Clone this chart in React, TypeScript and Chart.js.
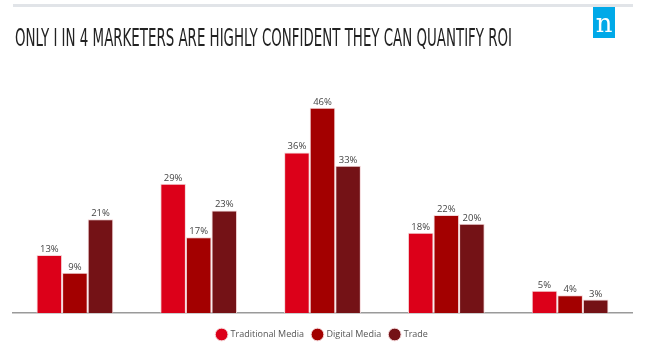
import React, { useEffect, useRef } from "react";
import { Chart, registerables } from "chart.js";

Chart.register(...registerables);

const categories = ["Group 1", "Group 2", "Group 3", "Group 4", "Group 5"];
const traditionalMedia = [13, 29, 36, 18, 5];
const digitalMedia = [9, 17, 46, 22, 4];
const trade = [21, 23, 33, 20, 3];
const seriesNames = ["Traditional Media", "Digital Media", "Trade"];
const title = "ONLY I IN 4 MARKETERS ARE HIGHLY CONFIDENT THEY CAN QUANTIFY ROI";

const decorPlugin = {
  id: "decor",
  afterDraw(chart: any) {
    const ctx = chart.ctx;
    ctx.save();
    // top rule
    ctx.fillStyle = "#e1e4e8";
    ctx.fillRect(13, 4, 620, 3);
    // logo
    ctx.fillStyle = "#00a9e8";
    ctx.fillRect(593, 7, 22, 31);
    ctx.fillStyle = "#ffffff";
    ctx.font = "26px 'DejaVu Serif', 'Liberation Serif', serif";
    ctx.textAlign = "center";
    ctx.textBaseline = "alphabetic";
    ctx.fillText("n", 604, 32);
    // title
    ctx.fillStyle = "#222222";
    ctx.font = "25px 'Liberation Sans Narrow', 'DejaVu Sans Condensed', sans-serif";
    ctx.textAlign = "left";
    const w = ctx.measureText(title).width;
    ctx.translate(15, 45.5);
    ctx.scale(497 / w, 1);
    ctx.fillText(title, 0, 0);
    ctx.restore();

    // data labels
    ctx.save();
    ctx.font = "9.5px 'Open Sans', sans-serif";
    ctx.fillStyle = "#444";
    ctx.textAlign = "center";
    ctx.textBaseline = "bottom";
    chart.data.datasets.forEach((ds: any, i: number) => {
      const meta = chart.getDatasetMeta(i);
      meta.data.forEach((bar: any, j: number) => {
        ctx.fillText(ds.data[j] + "%", bar.x, bar.y - 1);
      });
    });
    ctx.restore();
  },
};

export default function App() {
  const ref = useRef<HTMLCanvasElement>(null);
  useEffect(() => {
    const chart = new Chart(ref.current!, {
      type: "bar",
      data: {
        labels: categories,
        datasets: [
          { label: seriesNames[0], data: traditionalMedia, backgroundColor: "#dc0019" },
          { label: seriesNames[1], data: digitalMedia, backgroundColor: "#a30000" },
          { label: seriesNames[2], data: trade, backgroundColor: "#741216" },
        ].map((d) => ({
          ...d,
          borderColor: "#f3d6d8",
          borderWidth: 1,
          categoryPercentage: 0.62,
          barPercentage: 1,
        })),
      },
      options: {
        responsive: false,
        animation: false,
        layout: { padding: { top: 90, left: 13, right: 25, bottom: 5 } },
        scales: {
          x: {
            grid: { display: false },
            ticks: { display: false },
            border: { display: true, color: "#9a9a9a", width: 1.5 },
          },
          y: { display: false, min: 0, max: 50 },
        },
        plugins: {
          legend: {
            position: "bottom",
            labels: {
              usePointStyle: true,
              pointStyle: "circle",
              boxWidth: 10,
              boxHeight: 10,
              color: "#555",
              font: { family: "'Open Sans', sans-serif", size: 9 },
              padding: 9,
            },
          },
          tooltip: { enabled: false },
        },
      },
      plugins: [decorPlugin],
    });
    return () => chart.destroy();
  }, []);
  return (
    <div style={{ position: "fixed", left: 0, top: 0, width: 657, height: 354, background: "#fff" }}>
      <canvas ref={ref} width={657} height={354} style={{ width: 657, height: 354 }} />
    </div>
  );
}
